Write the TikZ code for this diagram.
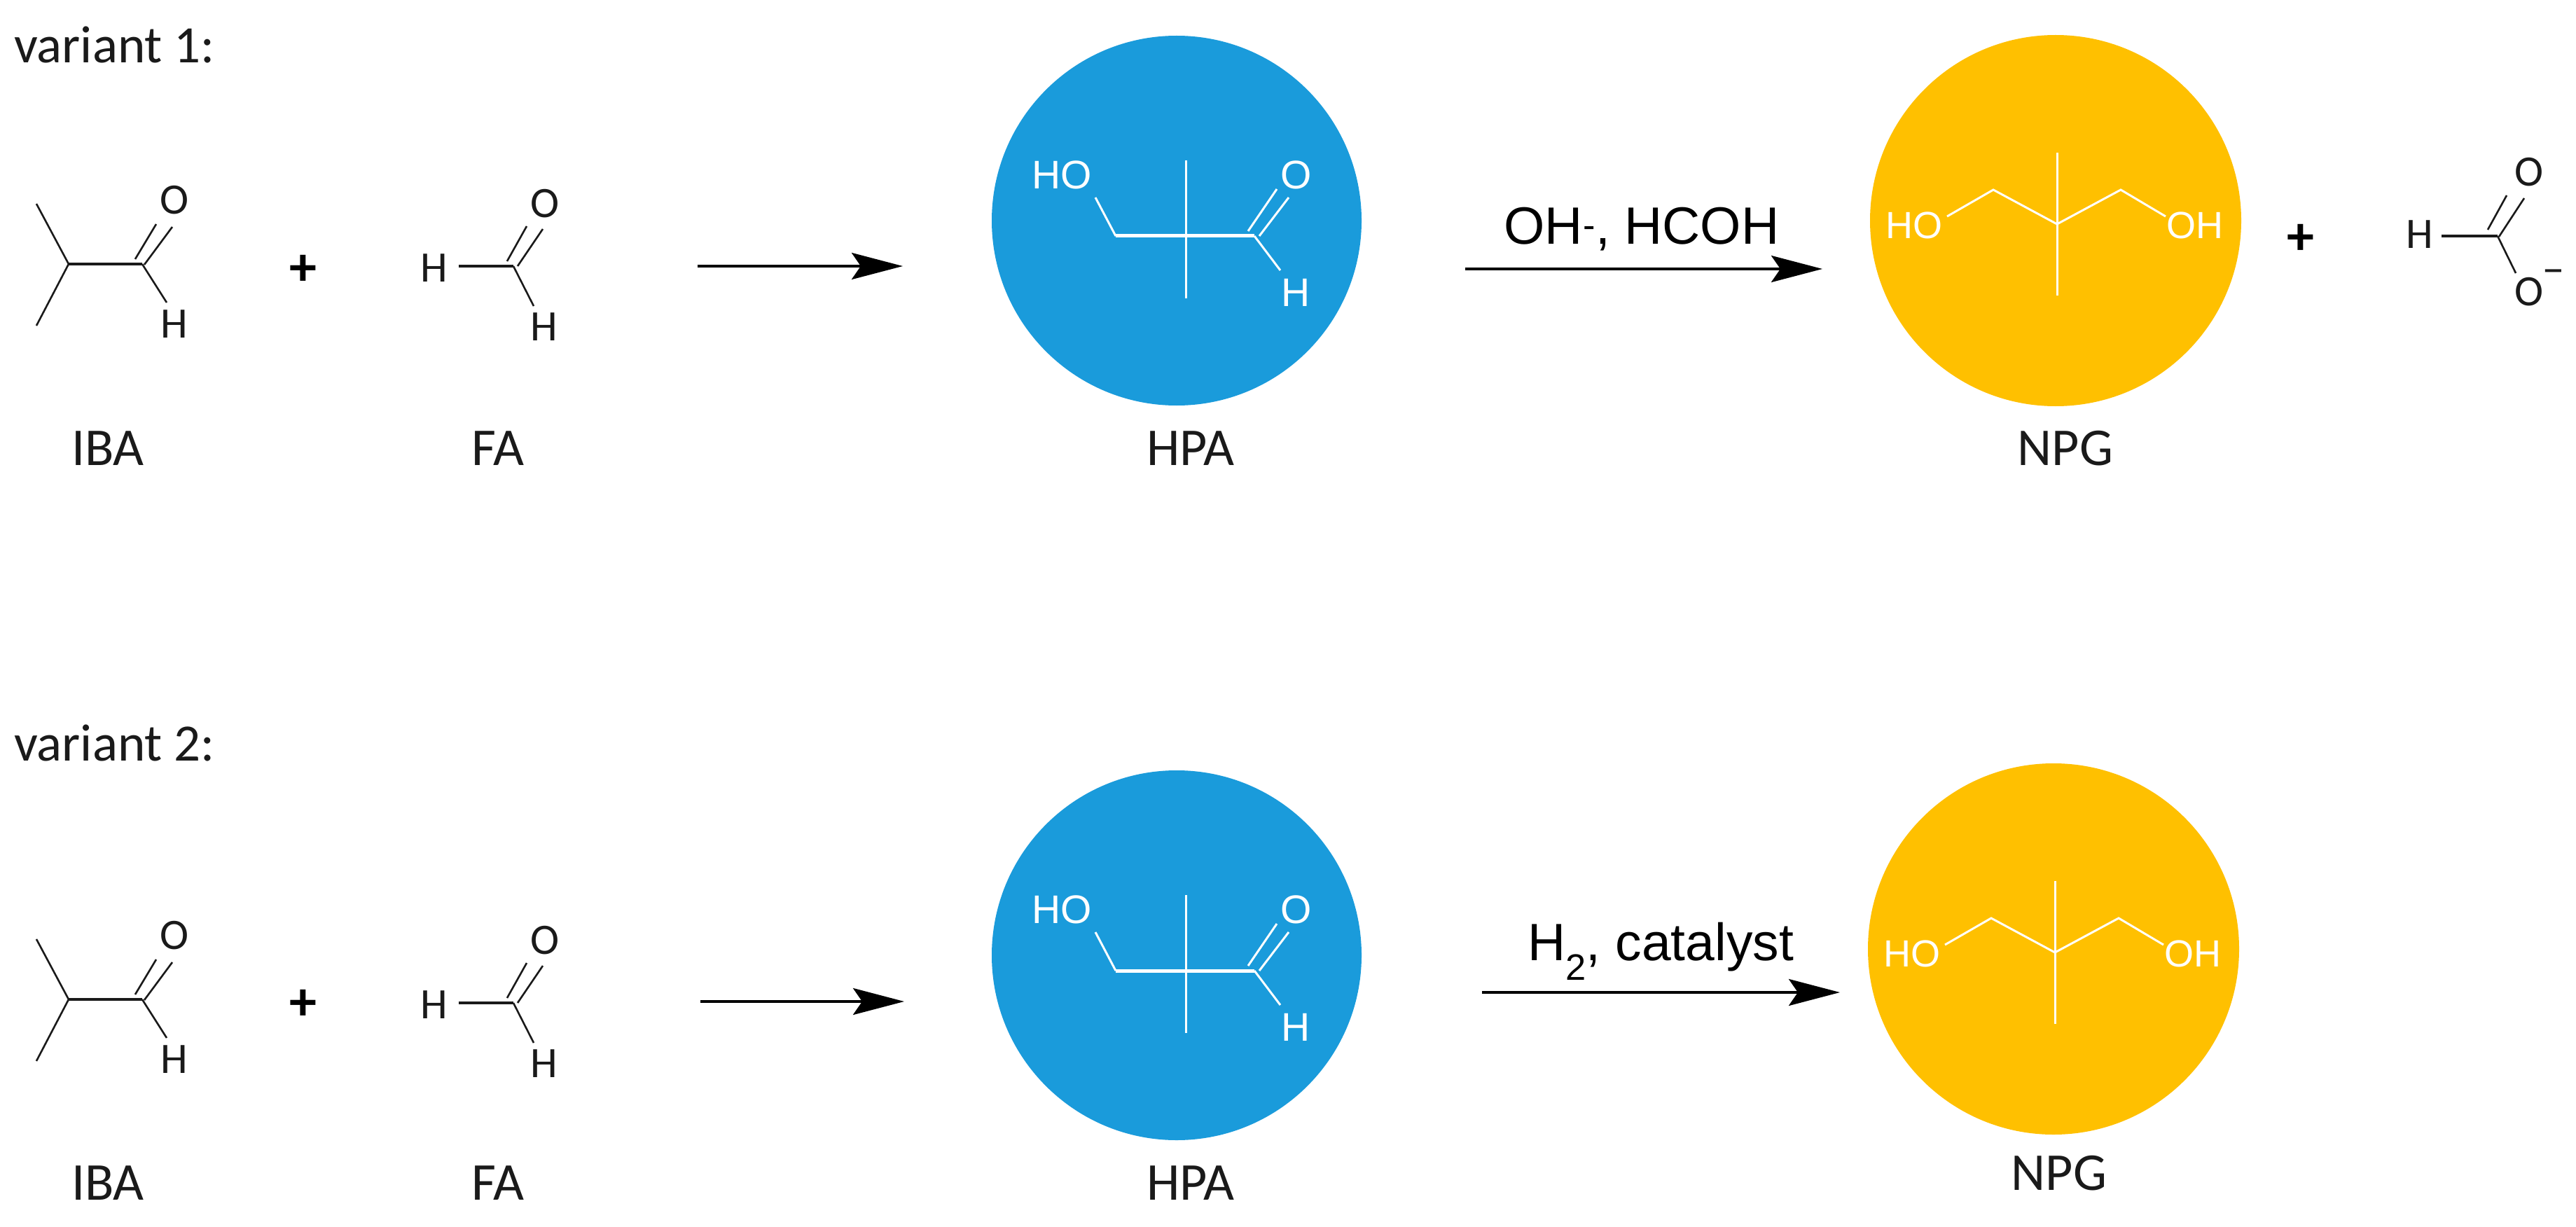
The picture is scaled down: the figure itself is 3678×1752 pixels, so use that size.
\documentclass[tikz,border=0pt]{standalone}
\usepackage{fontspec}
\setmainfont{Carlito}
\newfontfamily\arialfam{Liberation Sans}
\usetikzlibrary{arrows.meta}
\definecolor{hpablue}{HTML}{1A9BDB}
\definecolor{npgyellow}{HTML}{FFC000}
\definecolor{inkblack}{HTML}{1A1A1A}
\tikzset{
  x=1pt, y=-1pt,
  every node/.style={inner sep=0pt, outer sep=0pt},
  heading/.style={anchor=base west, text=inkblack, font=\fontsize{75}{80}\selectfont},
  namelabel/.style={text=inkblack, font=\fontsize{76}{80}\selectfont},
  atom/.style={text=inkblack, font=\fontsize{62}{66}\selectfont},
  whiteatom/.style={text=white, font=\arialfam\fontsize{57}{60}\selectfont},
  thinwhiteatom/.style={text=white, font=\arialfam\fontsize{54}{58}\selectfont},
  plussign/.style={text=black, font=\bfseries\fontsize{78}{80}\selectfont},
  condition/.style={anchor=base, text=black, font=\arialfam\fontsize{75}{80}\selectfont},
  bond/.style={draw=inkblack, line width=2.6pt},
  heavybond/.style={draw=inkblack, line width=4pt},
  whitebond/.style={draw=white, line width=3pt},
  heavywhitebond/.style={draw=white, line width=5pt},
  reaction/.style={draw=black, line width=4pt, -{Stealth[length=73pt,width=38pt,inset=13pt]}},
  ball/.style={circle, minimum size=#1, draw=none},
  iba/.pic={
    \coordinate (-m1) at (52,291);
    \coordinate (-m2) at (52,465);
    \coordinate (-ch) at (98,377);
    \coordinate (-co) at (203,377);
    \coordinate (-d1a) at (193,370);
    \coordinate (-d1b) at (223,320);
    \coordinate (-d2a) at (206,378);
    \coordinate (-d2b) at (246,324);
    \coordinate (-he) at (238,432);
    \node[atom] (-o) at (249,286) {O};
    \node[atom] (-h) at (249,463) {H};
    \draw[bond] (-m1) -- (-ch) -- (-m2);
    \draw[heavybond] (-ch) -- (-co);
    \draw[bond] (-d1a) -- (-d1b);
    \draw[bond] (-d2a) -- (-d2b);
    \draw[bond] (-co) -- (-he);
  },
  fa/.pic={
    \coordinate (-c) at (733,380);
    \coordinate (-bs) at (655,380);
    \coordinate (-d1a) at (724,373);
    \coordinate (-d1b) at (752,323);
    \coordinate (-d2a) at (739,380);
    \coordinate (-d2b) at (775,327);
    \coordinate (-he) at (762,437);
    \node[atom] (-h1) at (620,383) {H};
    \node[atom] (-h2) at (777,467) {H};
    \node[atom] (-o) at (778,291) {O};
    \draw[heavybond] (-bs) -- (-c);
    \draw[bond] (-d1a) -- (-d1b);
    \draw[bond] (-d2a) -- (-d2b);
    \draw[bond] (-c) -- (-he);
  },
  hpa/.pic={
    \node[ball=528pt, fill=hpablue] (-ball) at (1680,315) {};
    \coordinate (-l) at (1593,337);
    \coordinate (-r) at (1791,337);
    \coordinate (-v1) at (1693,229);
    \coordinate (-v2) at (1693,426);
    \coordinate (-ho) at (1564,282);
    \coordinate (-he) at (1828,386);
    \coordinate (-d1a) at (1782,330);
    \coordinate (-d1b) at (1823,270);
    \coordinate (-d2a) at (1798,337);
    \coordinate (-d2b) at (1840,282);
    \node[whiteatom] (-hotext) at (1516,250) {HO};
    \node[whiteatom] (-o) at (1851,250) {O};
    \node[whiteatom] (-h) at (1850,418) {H};
    \draw[heavywhitebond] (-l) -- (-r);
    \draw[whitebond] (-v1) -- (-v2);
    \draw[whitebond] (-l) -- (-ho);
    \draw[whitebond] (-r) -- (-he);
    \draw[whitebond] (-d1a) -- (-d1b);
    \draw[whitebond] (-d2a) -- (-d2b);
  },
  npg/.pic={
    \node[ball=530pt, fill=npgyellow] (-ball) at (2935,315) {};
    \coordinate (-v1) at (2937,218);
    \coordinate (-v2) at (2937,422);
    \coordinate (-j) at (2937,320);
    \coordinate (-lp) at (2846,271);
    \coordinate (-le) at (2780,309);
    \coordinate (-rp) at (3028,271);
    \coordinate (-re) at (3092,309);
    \node[thinwhiteatom] (-hotext) at (2733,322) {HO};
    \node[thinwhiteatom] (-ohtext) at (3134,322) {OH};
    \draw[whitebond] (-v1) -- (-v2);
    \draw[whitebond] (-le) -- (-lp) -- (-j) -- (-rp) -- (-re);
  }
}
\begin{document}
\begin{tikzpicture}
\useasboundingbox (0,0) rectangle (3678,1752);
\fill[white] (0,0) rectangle (3678,1752);

% variant 1
\node[heading] (v1) at (20,90) {variant 1:};
\pic (iba1) at (0,0) {iba};
\node[plussign] (plus1) at (433,386) {+};
\pic (fa1) at (0,0) {fa};
\node[namelabel] (ibal1) at (154,640) {IBA};
\node[namelabel] (fal1) at (711,640) {FA};
\pic (hpa1) at (0,0) {hpa};
\node[namelabel] (hpal1) at (1700,640) {HPA};
\pic (npg1) at (0,0) {npg};
\node[namelabel] (npgl1) at (2949,640) {NPG};
\coordinate (a1s) at (996,380);
\coordinate (a1e) at (1289,380);
\draw[reaction] (a1s) -- (a1e);
\coordinate (a2s) at (2092,384);
\coordinate (a2e) at (2602,384);
\draw[reaction] (a2s) -- (a2e);
\node[condition] (cond1) at (2344,349) {OH\textsuperscript{-}, HCOH};
\node[plussign] (plus2) at (3285,342) {+};

% formate
\coordinate (fc) at (3566,337);
\coordinate (fbs) at (3486,337);
\coordinate (fd1a) at (3552,328);
\coordinate (fd1b) at (3579,279);
\coordinate (fd2a) at (3568,338);
\coordinate (fd2b) at (3604,283);
\coordinate (foe) at (3592,390);
\node[atom] (fh) at (3455,335) {H};
\node[atom] (fo1) at (3611,246) {O};
\node[atom] (fo2) at (3611,417) {O};
\node[atom] (fminus) at (3646,396) {−};
\draw[heavybond] (fbs) -- (fc);
\draw[bond] (fd1a) -- (fd1b);
\draw[bond] (fd2a) -- (fd2b);
\draw[bond] (fc) -- (foe);

% variant 2
\node[heading] (v2) at (20,1086) {variant 2:};
\pic (iba2) at (0,1050) {iba};
\node[plussign] (plus3) at (433,1435) {+};
\pic (fa2) at (0,1052) {fa};
\node[namelabel] (ibal2) at (154,1689) {IBA};
\node[namelabel] (fal2) at (711,1689) {FA};
\pic (hpa2) at (0,1049) {hpa};
\node[namelabel] (hpal2) at (1700,1689) {HPA};
\pic (npg2) at (-3,1040) {npg};
\node[namelabel] (npgl2) at (2940,1675) {NPG};
\coordinate (a3s) at (1000,1430);
\coordinate (a3e) at (1291,1430);
\draw[reaction] (a3s) -- (a3e);
\coordinate (a4s) at (2116,1417);
\coordinate (a4e) at (2627,1417);
\draw[reaction] (a4s) -- (a4e);
\node[condition] (cond2) at (2371,1371) {H\textsubscript{2}, catalyst};
\end{tikzpicture}
\end{document}
